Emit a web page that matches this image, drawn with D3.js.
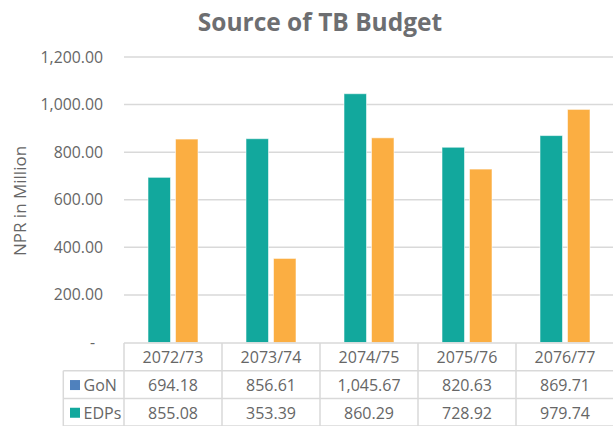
<!DOCTYPE html>
<html>
<head>
<meta charset="utf-8">
<script src="https://cdn.jsdelivr.net/npm/d3@7"></script>
<style>
  html, body { margin: 0; padding: 0; background: #fff; }
  svg { display: block; font-family: "Open Sans", sans-serif; }
</style>
</head>
<body>
<svg id="chart" width="613" height="426"></svg>
<script>
// ---- data ----
const categories = ["2072/73", "2073/74", "2074/75", "2075/76", "2076/77"];
const seriesNames = ["GoN", "EDPs"];
const gonValues = [694.18, 856.61, 1045.67, 820.63, 869.71];
const edpValues = [855.08, 353.39, 860.29, 728.92, 979.74];
const yTicks = [0, 200, 400, 600, 800, 1000, 1200];
const titleText = "Source of TB Budget";
const yTitleText = "NPR in Million";

// ---- styles ----
const barColors = { GoN: "#12a89d", EDPs: "#fbae42" };
const legendColors = { GoN: "#4f81bd", EDPs: "#12a89d" };
const textColor = "#666666";
const gridColor = "#d9d9d9";

const svg = d3.select("#chart");
const W = 613;
const plotLeft = 124, plotRight = 614, plotTop = 57, plotBottom = 342.5;

const x = d3.scaleBand().domain(categories).range([plotLeft, plotRight]).padding(0);
const xs = d3.scaleBand().domain(seriesNames).range([0, x.bandwidth()])
  .paddingInner(5 / 27.5).paddingOuter(0.8727);
const y = d3.scaleLinear().domain([0, 1200]).range([plotBottom, plotTop]);

// title
svg.append("text")
  .attr("x", 320).attr("y", 31)
  .attr("text-anchor", "middle")
  .attr("font-size", 24.5).attr("font-weight", 700)
  .attr("fill", "#6d6e71")
  .text(titleText);

// gridlines
svg.append("g").selectAll("line")
  .data(yTicks.filter(d => d > 0))
  .join("line")
  .attr("x1", plotLeft).attr("x2", W)
  .attr("y1", d => y(d)).attr("y2", d => y(d))
  .attr("stroke", gridColor).attr("stroke-width", 1.5);

// y axis labels
const yAxis = d3.axisLeft(y).tickValues(yTicks).tickSize(0).tickPadding(0)
  .tickFormat(d => d === 0 ? "-" : d3.format(",.2f")(d));
const gy = svg.append("g").attr("transform", "translate(103,0)").call(yAxis);
gy.select(".domain").remove();
gy.selectAll("text")
  .attr("font-family", "Open Sans, sans-serif")
  .attr("font-size", 15.8).attr("fill", textColor)
  .attr("dx", d => d === 0 ? -8 : 0);

// y title
svg.append("text")
  .attr("transform", "translate(26,201) rotate(-90)")
  .attr("text-anchor", "middle")
  .attr("font-size", 17).attr("fill", textColor)
  .text(yTitleText);

// bars
const rows = categories.map((c, i) => ({ cat: c, GoN: gonValues[i], EDPs: edpValues[i] }));
const groups = svg.append("g").selectAll("g")
  .data(rows).join("g")
  .attr("transform", d => `translate(${x(d.cat)},0)`);
groups.selectAll("rect")
  .data(d => seriesNames.map(s => ({ s, v: d[s] })))
  .join("rect")
  .attr("x", d => xs(d.s))
  .attr("width", xs.bandwidth())
  .attr("y", d => y(d.v))
  .attr("height", d => y(0) - y(d.v))
  .attr("fill", d => barColors[d.s])
  .attr("stroke", "rgba(255,255,255,0.55)")
  .attr("stroke-width", 1);

// data table
const tableTop = 343, rowH = 27.7, legendLeft = 63.3;
const rowY = [tableTop, tableTop + rowH, tableTop + 2 * rowH, tableTop + 3 * rowH];
const tg = svg.append("g");
// horizontal lines
tg.append("line").attr("x1", plotLeft).attr("x2", W).attr("y1", rowY[0]).attr("y2", rowY[0])
  .attr("stroke", gridColor).attr("stroke-width", 1.5);
[rowY[1], rowY[2], rowY[3]].forEach(yy => {
  tg.append("line").attr("x1", legendLeft).attr("x2", W).attr("y1", yy).attr("y2", yy)
    .attr("stroke", gridColor).attr("stroke-width", 1.5);
});
// vertical lines
tg.append("line").attr("x1", legendLeft).attr("x2", legendLeft).attr("y1", rowY[1]).attr("y2", 430)
  .attr("stroke", gridColor).attr("stroke-width", 1.5);
categories.forEach(c => {
  tg.append("line").attr("x1", x(c)).attr("x2", x(c)).attr("y1", rowY[0]).attr("y2", 430)
    .attr("stroke", gridColor).attr("stroke-width", 1.5);
});
// header
tg.selectAll("text.hdr").data(categories).join("text")
  .attr("class", "hdr")
  .attr("x", d => x(d) + x.bandwidth() / 2).attr("y", rowY[0] + rowH / 2 + 0.5)
  .attr("text-anchor", "middle").attr("dominant-baseline", "central")
  .attr("font-size", 16).attr("fill", textColor)
  .text(d => d);
// value rows
const fmt = d3.format(",.2f");
[gonValues, edpValues].forEach((vals, r) => {
  const cy = rowY[r + 1] + rowH / 2 + 0.5;
  tg.append("g").selectAll("text").data(vals).join("text")
    .attr("x", (d, i) => x(categories[i]) + x.bandwidth() / 2).attr("y", cy)
    .attr("text-anchor", "middle").attr("dominant-baseline", "central")
    .attr("font-size", 16).attr("fill", textColor)
    .text(d => fmt(d));
  const s = seriesNames[r];
  tg.append("rect").attr("x", 70).attr("y", cy - 5).attr("width", 10).attr("height", 10)
    .attr("fill", legendColors[s]);
  tg.append("text").attr("x", 83.5).attr("y", cy)
    .attr("dominant-baseline", "central")
    .attr("font-size", 16).attr("fill", textColor)
    .text(s);
});
</script>
</body>
</html>
